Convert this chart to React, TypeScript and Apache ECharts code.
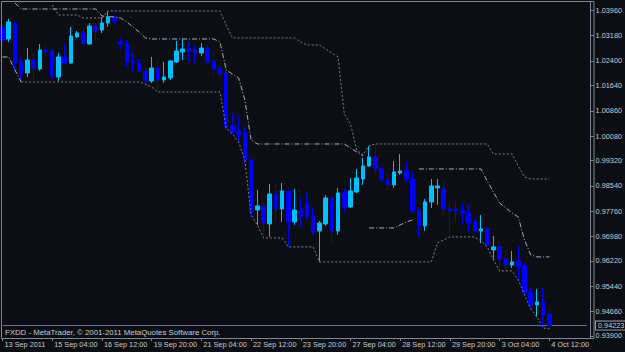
import React, { useEffect, useRef } from 'react';
import * as echarts from 'echarts';

// Time-axis tick labels (one every 8 H4 bars)
const dateLabels = [
  '13 Sep 2011', '15 Sep 04:00', '16 Sep 12:00', '19 Sep 20:00', '21 Sep 04:00', '22 Sep 12:00',
  '23 Sep 20:00', '27 Sep 04:00', '28 Sep 12:00', '29 Sep 20:00', '3 Oct 04:00', '4 Oct 12:00',
];
// Price-axis tick labels
const priceTicks = [
  1.0396, 1.0318, 1.024, 1.0164, 1.0086, 1.0008, 0.9932, 0.9854, 0.9776, 0.9698, 0.9622, 0.9544, 0.9466, 0.939,
];
const lastPrice = 0.94223;
const slotCount = 95; // 89 bars + empty right margin (chart shift)

// H4 candles: [open, close, low, high]
const candles = [
  [1.03420, 1.03049, 1.02987, 1.03482],
  [1.03080, 1.03605, 1.02987, 1.03698],
  [1.03574, 1.02338, 1.02122, 1.03605],
  [1.02369, 1.02029, 1.01751, 1.02493],
  [1.02029, 1.02431, 1.01906, 1.02802],
  [1.02431, 1.02184, 1.01751, 1.02647],
  [1.02153, 1.02740, 1.02091, 1.02925],
  [1.02740, 1.02678, 1.02493, 1.02895],
  [1.02709, 1.01906, 1.01813, 1.02771],
  [1.01906, 1.02524, 1.01782, 1.02647],
  [1.02524, 1.02338, 1.02307, 1.02925],
  [1.02338, 1.03173, 1.02307, 1.03451],
  [1.03142, 1.03265, 1.03111, 1.03327],
  [1.03265, 1.02925, 1.02895, 1.03389],
  [1.02925, 1.03482, 1.02895, 1.03574],
  [1.03482, 1.03327, 1.03018, 1.03574],
  [1.03358, 1.03574, 1.03265, 1.03760],
  [1.03574, 1.03760, 1.03451, 1.03945],
  [1.03729, 1.03636, 1.03543, 1.03822],
  [1.02987, 1.02925, 1.02740, 1.03111],
  [1.02925, 1.02369, 1.02215, 1.03049],
  [1.02369, 1.02338, 1.02091, 1.02647],
  [1.02338, 1.02091, 1.02060, 1.02462],
  [1.02091, 1.01782, 1.01659, 1.02246],
  [1.01782, 1.02184, 1.01720, 1.02524],
  [1.02184, 1.01813, 1.01442, 1.02431],
  [1.01813, 1.01906, 1.01720, 1.02369],
  [1.01875, 1.02400, 1.01813, 1.02431],
  [1.02369, 1.02709, 1.02338, 1.03018],
  [1.02678, 1.02771, 1.02431, 1.03080],
  [1.02771, 1.02709, 1.02369, 1.02987],
  [1.02740, 1.02616, 1.02307, 1.02895],
  [1.02647, 1.02802, 1.02555, 1.02956],
  [1.02802, 1.02369, 1.02277, 1.02895],
  [1.02400, 1.02153, 1.01968, 1.02678],
  [1.02184, 1.01998, 1.01844, 1.02338],
  [1.02029, 1.00361, 1.00268, 1.02431],
  [1.00392, 1.00206, 1.00145, 1.00793],
  [1.00237, 1.00114, 0.99897, 1.00701],
  [1.00176, 0.99341, 0.99217, 1.00361],
  [0.99341, 0.97734, 0.97580, 0.99403],
  [0.97796, 0.97920, 0.97333, 0.98414],
  [0.97920, 0.97394, 0.96931, 0.98012],
  [0.97363, 0.98290, 0.96962, 0.98599],
  [0.98290, 0.97827, 0.97425, 0.98569],
  [0.97827, 0.98383, 0.97425, 0.98630],
  [0.98383, 0.97425, 0.96653, 0.98414],
  [0.97425, 0.97796, 0.97333, 0.98445],
  [0.97796, 0.97611, 0.97271, 0.98167],
  [0.98012, 0.97580, 0.97487, 0.98321],
  [0.97611, 0.97147, 0.97024, 0.97858],
  [0.97147, 0.97394, 0.96189, 0.97456],
  [0.97363, 0.98167, 0.97302, 0.98260],
  [0.98167, 0.97147, 0.96776, 0.98198],
  [0.97147, 0.98321, 0.97024, 0.98476],
  [0.98321, 0.97889, 0.97703, 0.98476],
  [0.97889, 0.98383, 0.97858, 0.98785],
  [0.98352, 0.98785, 0.98321, 0.99063],
  [0.98754, 0.99156, 0.98569, 0.99403],
  [0.99156, 0.99434, 0.99125, 0.99774],
  [0.99434, 0.99063, 0.98908, 0.99866],
  [0.99094, 0.98723, 0.98630, 0.99125],
  [0.98723, 0.98569, 0.98414, 0.98939],
  [0.98569, 0.98970, 0.98476, 0.99310],
  [0.98939, 0.99001, 0.98878, 0.99526],
  [0.99001, 0.98754, 0.98630, 0.99279],
  [0.98754, 0.97765, 0.97703, 0.98970],
  [0.97765, 0.97302, 0.96962, 0.97858],
  [0.97302, 0.98043, 0.97147, 0.98136],
  [0.98043, 0.98538, 0.97858, 0.98754],
  [0.98476, 0.98538, 0.97951, 0.98754],
  [0.98476, 0.97827, 0.97642, 0.98692],
  [0.97827, 0.97765, 0.96962, 0.97981],
  [0.97827, 0.97765, 0.97425, 0.98074],
  [0.97765, 0.97703, 0.97333, 0.98012],
  [0.97703, 0.97394, 0.97116, 0.97951],
  [0.97425, 0.97147, 0.97085, 0.97518],
  [0.97147, 0.97209, 0.96776, 0.97642],
  [0.97209, 0.96715, 0.96653, 0.97271],
  [0.96560, 0.96653, 0.96251, 0.96993],
  [0.96653, 0.96251, 0.95911, 0.96807],
  [0.96282, 0.96097, 0.95849, 0.96560],
  [0.96097, 0.96189, 0.96004, 0.96529],
  [0.96220, 0.96035, 0.95633, 0.96684],
  [0.96066, 0.95231, 0.95200, 0.96158],
  [0.95262, 0.94861, 0.94768, 0.95386],
  [0.94861, 0.94953, 0.94490, 0.95355],
  [0.94953, 0.94552, 0.94150, 0.95386],
  [0.94582, 0.94223, 0.94119, 0.94737],
];

// Channel (dotted) lines: [barIndex, price] vertices
const upperDotted = [
  [8, 1.0413], [9, 1.03822], [12, 1.03822], [13, 1.03729], [16, 1.03729], [17, 1.03945], [35, 1.03945],
  [36, 1.03513], [37, 1.03111], [47, 1.03111], [48, 1.02987], [49, 1.02895], [51, 1.02895], [52, 1.02771],
  [53, 1.02647], [54, 1.02524], [55, 1.00762], [56, 1.00453], [57, 0.9965], [58, 0.99496], [59, 0.99774],
  [60, 0.99835], [78, 0.99835], [79, 0.99526], [82, 0.99526], [83, 0.99156], [84, 0.98816], [85, 0.98754],
  [88, 0.98754],
];
const lowerDotted = [
  [3, 1.01751], [22, 1.01751], [23, 1.01689], [24, 1.01597], [25, 1.01442], [35, 1.01442], [36, 1.0033],
  [37, 1.00145], [38, 0.99897], [39, 0.99341], [40, 0.97642], [41, 0.97333], [42, 0.96931], [45, 0.96931],
  [46, 0.96653], [50, 0.96653], [51, 0.96189], [69, 0.96189], [70, 0.96776], [71, 0.96869], [72, 0.96962],
  [76, 0.96962], [77, 0.96838], [78, 0.96653], [79, 0.96251], [80, 0.95911], [82, 0.95911], [83, 0.95633],
  [84, 0.9517], [85, 0.94737], [86, 0.9449], [87, 0.9415], [88, 0.94119],
];
// Trailing (dash-dot) lines: [barIndex, price] vertices, one list per visible stretch
const upperDashDotA = [
  [2, 1.04192], [3, 1.04007], [15, 1.04007], [16, 1.03791], [18, 1.0376], [19, 1.03729], [20, 1.03605],
  [21, 1.03451], [22, 1.03296], [23, 1.03111], [24, 1.0308], [34, 1.0308], [35, 1.02987], [36, 1.02122],
  [37, 1.01998], [38, 1.01875], [39, 1.01195], [40, 0.99959], [41, 0.99835], [55, 0.99835], [56, 0.99712],
  [57, 0.99588], [58, 0.99465],
];
const upperDashDotB = [
  [67, 0.99063], [77, 0.99063], [78, 0.98692], [79, 0.98352], [80, 0.98012], [81, 0.97858], [82, 0.97703],
  [83, 0.9758], [84, 0.96869], [85, 0.96406], [86, 0.96344], [88, 0.96344],
];
const lowerDashDotA = [[0, 1.02524], [1, 1.02524], [2, 1.02122], [3, 1.01751]];
const lowerDashDotB = [[59, 0.9724], [63, 0.9724], [64, 0.97333], [65, 0.97425], [66, 0.97487]];

const BG = '#0c0e13';
const FRAME = '#7f8899';
const TEXT = '#c9ccd2';
const FONT = 'Liberation Sans, Arial, sans-serif';
const FS = 7.3;

export default function App() {
  const ref = useRef<HTMLDivElement>(null);

  useEffect(() => {
    if (!ref.current) return;
    const chart = echarts.init(ref.current, undefined, { renderer: 'svg' });
    const categories = Array.from({ length: slotCount }, (_, i) => String(i));

    const dotted = (data: number[][]) => ({
      type: 'line',
      data,
      symbol: 'none',
      silent: true,
      z: 4,
      lineStyle: { color: '#7a8290', width: 1, type: [2, 2] },
    });
    const dashDot = (data: number[][]) => ({
      type: 'line',
      data,
      symbol: 'none',
      silent: true,
      z: 4,
      lineStyle: { color: '#a7b0bc', width: 1, type: [5, 2, 1, 2] },
    });

    const frame = {
      type: 'rect',
      silent: true,
      z: 100,
      shape: { x: 1.5, y: 1.5, width: 592.5, height: 337 },
      style: { fill: 'none', stroke: FRAME, lineWidth: 1 },
    };
    const copyright = {
      type: 'text',
      silent: true,
      z: 100,
      x: 5,
      y: 332,
      style: {
        text: 'FXDD - MetaTrader, \u00a9 2001-2011 MetaQuotes Software Corp.',
        fill: TEXT,
        fontSize: 7.8,
        fontFamily: FONT,
        verticalAlign: 'middle',
      },
    };

    chart.setOption({
      animation: false,
      backgroundColor: BG,
      grid: { left: 2.5, top: 2, width: 587.5, height: 336 },
      xAxis: {
        type: 'category',
        data: categories,
        boundaryGap: false,
        axisLine: { show: true, lineStyle: { color: FRAME } },
        axisTick: { show: true, interval: 7, length: 3, lineStyle: { color: FRAME } },
        axisLabel: {
          interval: 7,
          formatter: (_v: string, i: number) => dateLabels[i / 8] ?? '',
          align: 'left',
          margin: 3,
          padding: [0, 0, 0, 2],
          color: TEXT,
          fontSize: FS,
          fontFamily: FONT,
        },
        splitLine: { show: false },
      },
      yAxis: {
        type: 'value',
        position: 'right',
        offset: 4,
        min: 0.93838,
        max: 1.04223,
        axisLine: { show: true, lineStyle: { color: FRAME } },
        axisTick: { show: true, length: 3, customValues: priceTicks, lineStyle: { color: FRAME } },
        axisLabel: {
          customValues: priceTicks,
          formatter: (v: number) => v.toFixed(5),
          margin: 5,
          color: TEXT,
          fontSize: FS,
          fontFamily: FONT,
        },
        splitLine: { show: false },
      },
      series: [
        {
          // bid line across the whole chart
          type: 'line',
          data: [[0, lastPrice], [slotCount - 1, lastPrice]],
          symbol: 'none',
          silent: true,
          z: 2,
          lineStyle: { color: '#5d76a3', width: 1, type: 'solid' },
        },
        {
          type: 'candlestick',
          data: candles,
          barWidth: 4,
          z: 3,
          itemStyle: {
            color: '#00bfff',
            color0: '#0000ff',
            borderColor: '#00bfff',
            borderColor0: '#0000ff',
            borderWidth: 1,
          },
        },
        dotted(upperDotted),
        dotted(lowerDotted),
        dashDot(upperDashDotA),
        dashDot(upperDashDotB),
        dashDot(lowerDashDotA),
        dashDot(lowerDashDotB),
      ],
      graphic: [frame, copyright],
    });

    // Price tag of the last bid, placed with the chart's own price scale
    const bidY = chart.convertToPixel({ yAxisIndex: 0 }, lastPrice) as number;
    chart.setOption({
      graphic: [
        frame,
        copyright,
        {
          type: 'text',
          silent: true,
          z: 110,
          x: 596,
          y: bidY,
          style: {
            text: lastPrice.toFixed(5),
            fill: TEXT,
            fontSize: FS,
            fontFamily: FONT,
            verticalAlign: 'middle',
            backgroundColor: BG,
            borderColor: '#9aa3b0',
            borderWidth: 1,
            padding: [1, 2, 0, 2],
          },
        },
      ],
    });

    return () => chart.dispose();
  }, []);

  return (
    <div
      ref={ref}
      style={{ position: 'fixed', left: 0, top: 0, width: 625, height: 352, background: BG }}
    />
  );
}
